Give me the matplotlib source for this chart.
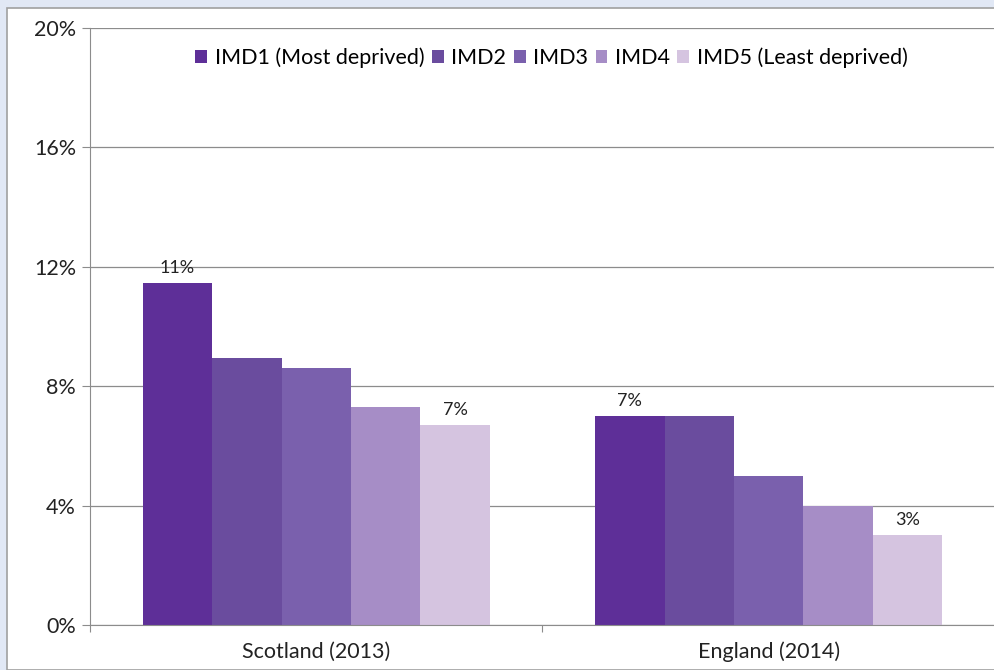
import matplotlib.pyplot as plt
import numpy as np
from matplotlib.patches import Rectangle

plt.rcParams['font.family'] = ['Lato', 'DejaVu Sans']

categories = ["Scotland (2013)", "England (2014)"]
series_names = ["IMD1 (Most deprived)", "IMD2", "IMD3", "IMD4", "IMD5 (Least deprived)"]
values = {
    "IMD1 (Most deprived)": [11.45, 7.0],
    "IMD2": [8.95, 7.0],
    "IMD3": [8.6, 5.0],
    "IMD4": [7.3, 4.0],
    "IMD5 (Least deprived)": [6.7, 3.0],
}
colors = ["#5e2f98", "#6a4c9e", "#7a60ad", "#a68dc6", "#d5c4e0"]
# data labels: (series index, category index, text)
labels = [(0, 0, "11%"), (4, 0, "7%"), (0, 1, "7%"), (4, 1, "3%")]
yticks = [0, 4, 8, 12, 16, 20]

fig = plt.figure(figsize=(9.95, 6.70), dpi=100)
fig.patch.set_facecolor("#e1e8f5")
# white inner panel
panel = Rectangle((7 / 995, 0), 1, 1 - 8 / 670, transform=fig.transFigure,
                  facecolor="white", edgecolor="#a0a0a0", linewidth=1.2, zorder=-10)
fig.add_artist(panel)

ax = fig.add_axes([90 / 995, 45 / 670, 905 / 995, 597 / 670])
ax.set_facecolor("none")
ax.set_zorder(1)

n = len(series_names)
group_w = 0.767
bw = group_w / n
x = np.arange(len(categories))
for i, name in enumerate(series_names):
    pos = x - group_w / 2 + bw * (i + 0.5)
    ax.bar(pos, values[name], width=bw, color=colors[i], label=name, zorder=2)

for si, ci, txt in labels:
    pos = ci - group_w / 2 + bw * (si + 0.5)
    ax.text(pos, values[series_names[si]][ci] + 0.25, txt, ha="center", va="bottom",
            fontsize=13, color="#222222")

ax.set_xlim(-0.5, 1.5)
ax.set_ylim(0, 20)
ax.set_yticks(yticks)
ax.set_yticklabels([f"{t}%" for t in yticks], fontsize=15.5, color="#222222")
ax.yaxis.grid(True, color="#8c8c8c", linewidth=0.9, zorder=0)
ax.set_axisbelow(True)
ax.tick_params(axis="y", length=6, color="#8c8c8c", pad=4)

ax.set_xticks([-0.5, 0.5, 1.5], minor=False)
ax.set_xticklabels([])
ax.set_xticks(x, minor=True)
ax.set_xticklabels(categories, minor=True, fontsize=15.5, color="#222222")
ax.tick_params(axis="x", which="major", length=5, color="#8c8c8c")
ax.tick_params(axis="x", which="minor", length=0, pad=12)

for s in ["top", "right"]:
    ax.spines[s].set_visible(False)
ax.spines["left"].set_color("#8c8c8c")
ax.spines["bottom"].set_color("#8c8c8c")

leg = ax.legend(loc="upper center", bbox_to_anchor=(0.51, 1.0), ncol=5, frameon=False,
                fontsize=15.5, handlelength=0.55, handleheight=0.55, handletextpad=0.35,
                columnspacing=0.35)

fig.savefig("out.png", dpi=100, facecolor=fig.get_facecolor())
